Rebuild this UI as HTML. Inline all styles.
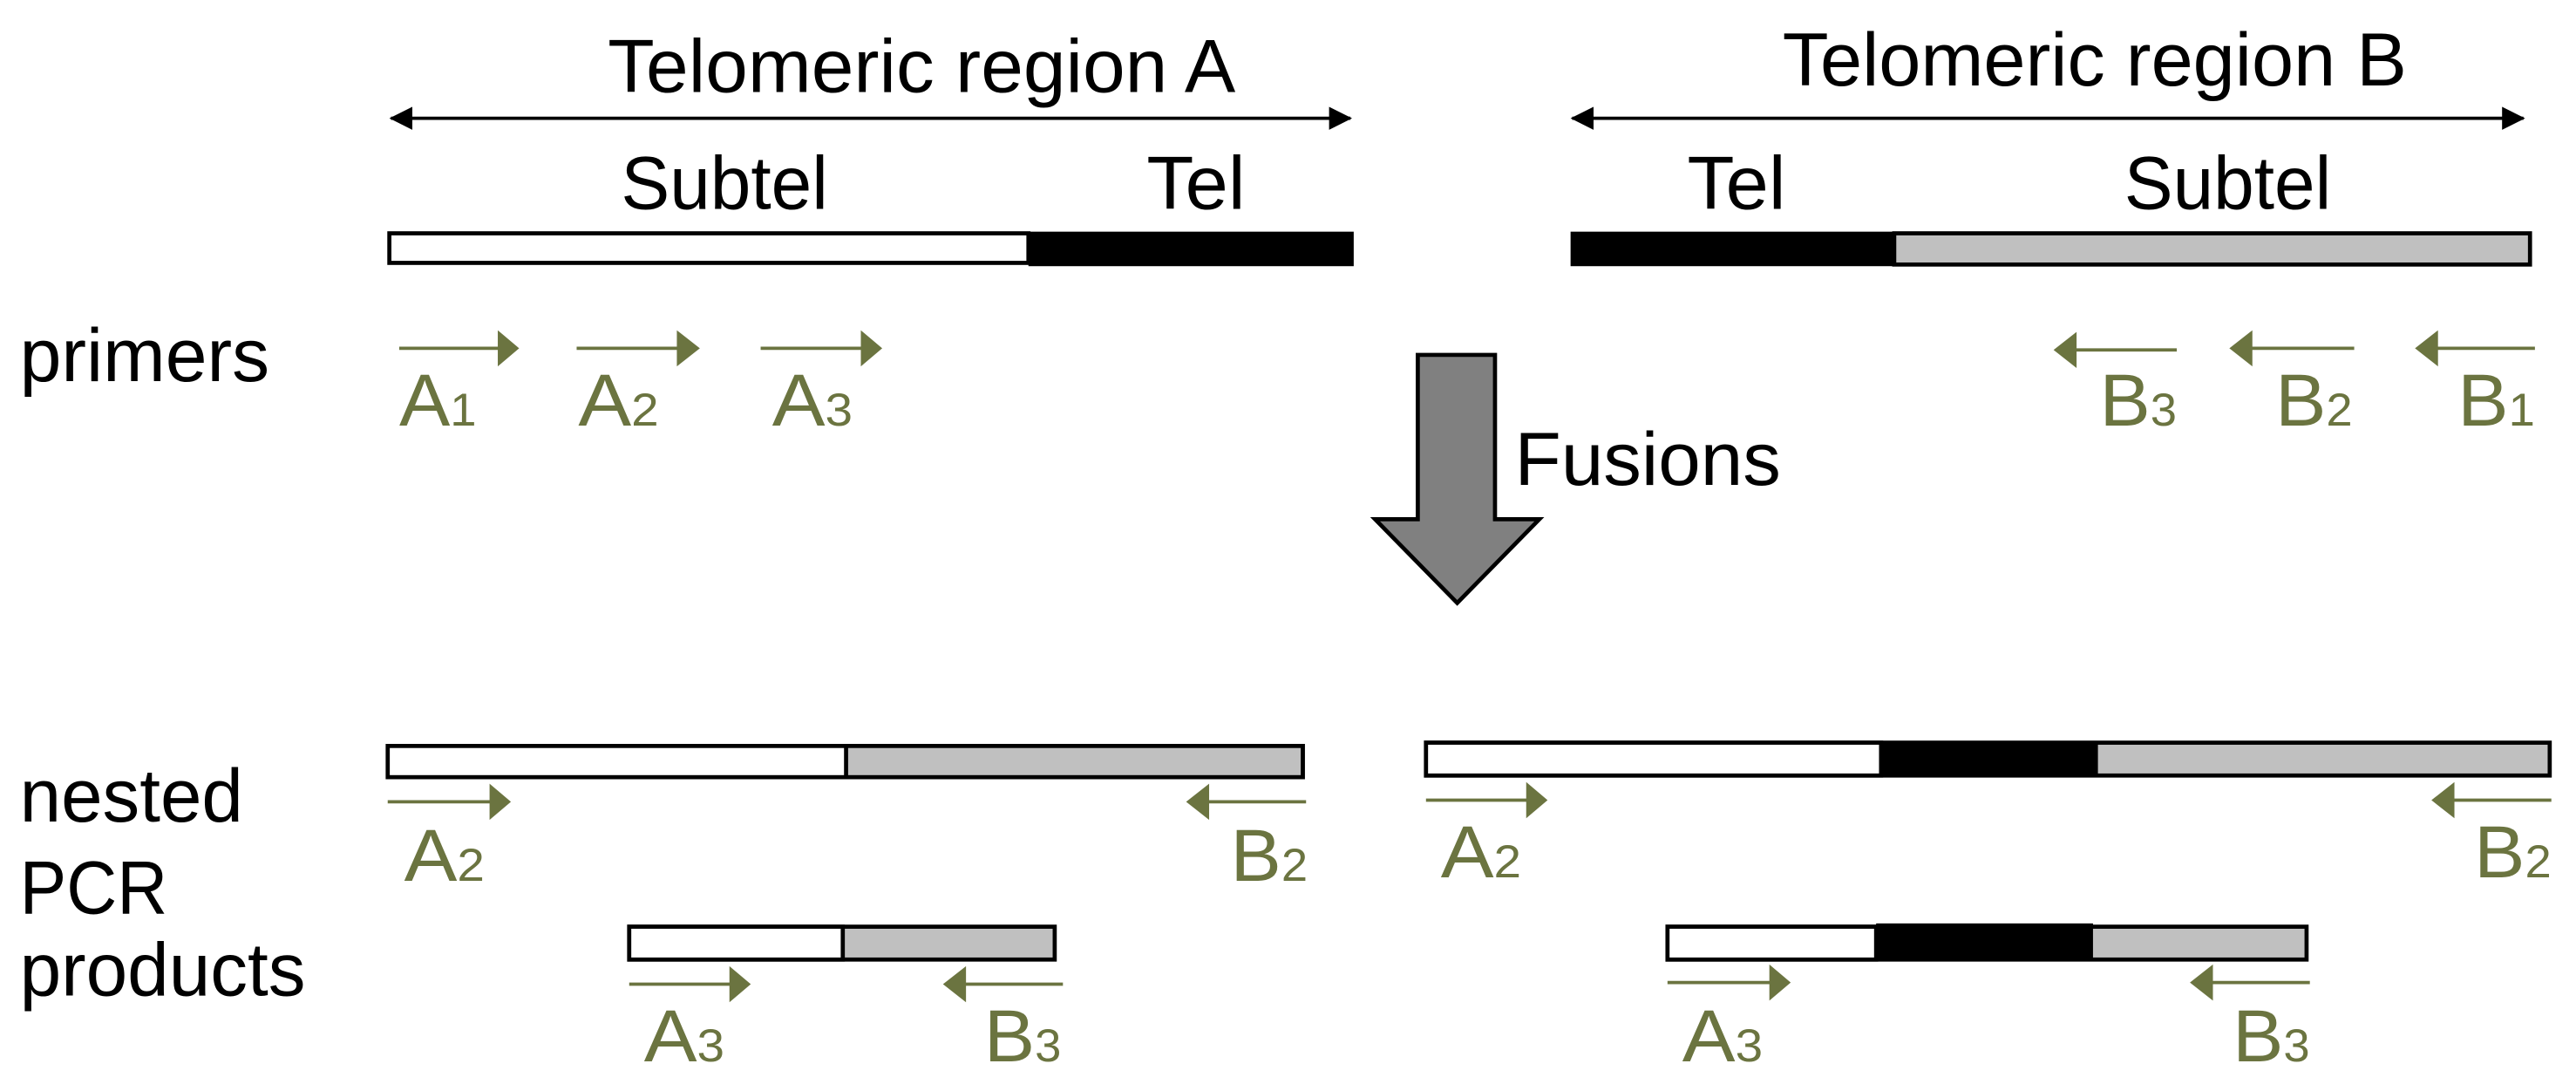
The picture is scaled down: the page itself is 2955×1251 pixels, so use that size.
<!DOCTYPE html>
<html><head><meta charset="utf-8"><style>
html,body{margin:0;padding:0;background:#fff;}
svg{display:block;}
text{font-family:"Liberation Sans",Arial,sans-serif;}
</style></head><body>
<svg width="2955" height="1251" viewBox="0 0 1568 664" preserveAspectRatio="none" xmlns="http://www.w3.org/2000/svg">
<defs>
<marker id="bk" markerWidth="14" markerHeight="14" refX="13" refY="7" orient="auto-start-reverse" markerUnits="userSpaceOnUse" viewBox="0 0 14 14"><path d="M0,0 L14,7 L0,14 Z" fill="#000"/></marker>
</defs>
<g fill="#000" font-size="46">
<text x="370" y="56" textLength="382" lengthAdjust="spacingAndGlyphs">Telomeric region A</text>
<text x="1085" y="52" textLength="380" lengthAdjust="spacingAndGlyphs">Telomeric region B</text>
<text x="378" y="127" textLength="126" lengthAdjust="spacingAndGlyphs">Subtel</text>
<text x="698" y="127" textLength="60" lengthAdjust="spacingAndGlyphs">Tel</text>
<text x="1027" y="127" textLength="60" lengthAdjust="spacingAndGlyphs">Tel</text>
<text x="1293" y="127" textLength="126" lengthAdjust="spacingAndGlyphs">Subtel</text>
<text x="12" y="232" textLength="152" lengthAdjust="spacingAndGlyphs">primers</text>
<text x="922" y="295" textLength="162" lengthAdjust="spacingAndGlyphs">Fusions</text>
<text x="12" y="500" textLength="136" lengthAdjust="spacingAndGlyphs">nested</text>
<text x="12" y="556" textLength="90" lengthAdjust="spacingAndGlyphs">PCR</text>
<text x="12" y="606" textLength="174" lengthAdjust="spacingAndGlyphs">products</text>
</g>
<line x1="238" y1="72" x2="822" y2="72" stroke="#000" stroke-width="2" marker-start="url(#bk)" marker-end="url(#bk)"/>
<line x1="957" y1="72" x2="1536" y2="72" stroke="#000" stroke-width="2" marker-start="url(#bk)" marker-end="url(#bk)"/>
<rect x="237" y="142" width="389" height="18" fill="#fff" stroke="#000" stroke-width="2.5"/>
<rect x="626" y="141" width="198" height="21" fill="#000"/>
<rect x="956" y="141" width="197" height="21" fill="#000"/>
<rect x="1153" y="142" width="387" height="19" fill="#c0c0c0" stroke="#000" stroke-width="2.5"/>
<path d="M863,216 L910,216 L910,316 L937,316 L887,367 L837,316 L863,316 Z" fill="#808080" stroke="#000" stroke-width="2.5"/>
<rect x="236" y="454" width="557" height="19" fill="#fff" stroke="#000" stroke-width="2.5"/>
<rect x="515" y="454" width="278" height="19" fill="#c0c0c0" stroke="#000" stroke-width="2.5"/>
<rect x="868" y="452" width="684" height="20" fill="#c0c0c0" stroke="#000" stroke-width="2.5"/>
<rect x="868" y="452" width="277" height="20" fill="#fff" stroke="#000" stroke-width="2.5"/>
<rect x="1145" y="451" width="132" height="22" fill="#000"/>
<rect x="383" y="564" width="259" height="20" fill="#c0c0c0" stroke="#000" stroke-width="2.5"/>
<rect x="383" y="564" width="130" height="20" fill="#fff" stroke="#000" stroke-width="2.5"/>
<rect x="1015" y="564" width="389" height="20" fill="#c0c0c0" stroke="#000" stroke-width="2.5"/>
<rect x="1015" y="564" width="127" height="20" fill="#fff" stroke="#000" stroke-width="2.5"/>
<rect x="1142" y="562" width="132" height="23" fill="#000"/>
<g fill="#6b7440" stroke="#6b7440">
<g stroke-width="2">
<line x1="243" y1="212" x2="305" y2="212"/><line x1="351" y1="212" x2="414" y2="212"/><line x1="463" y1="212" x2="526" y2="212"/>
<line x1="1262" y1="213" x2="1325" y2="213"/><line x1="1369" y1="212" x2="1433" y2="212"/><line x1="1482" y1="212" x2="1543" y2="212"/>
<line x1="236" y1="488" x2="300" y2="488"/><line x1="734" y1="488" x2="795" y2="488"/>
<line x1="868" y1="487" x2="931" y2="487"/><line x1="1492" y1="487" x2="1553" y2="487"/>
<line x1="383" y1="599" x2="446" y2="599"/><line x1="586" y1="599" x2="647" y2="599"/>
<line x1="1015" y1="598" x2="1079" y2="598"/><line x1="1345" y1="598" x2="1406" y2="598"/>
</g>
<g stroke="none">
<path d="M303,201 L316,212 L303,223Z"/><path d="M412,201 L426,212 L412,223Z"/><path d="M524,201 L537,212 L524,223Z"/>
<path d="M1264,202 L1250,213 L1264,224Z"/><path d="M1371,201 L1357,212 L1371,223Z"/><path d="M1484,201 L1470,212 L1484,223Z"/>
<path d="M298,477 L311,488 L298,499Z"/><path d="M736,477 L722,488 L736,499Z"/>
<path d="M929,476 L942,487 L929,498Z"/><path d="M1494,476 L1480,487 L1494,498Z"/>
<path d="M444,588 L457,599 L444,610Z"/><path d="M588,588 L574,599 L588,610Z"/>
<path d="M1077,587 L1090,598 L1077,609Z"/><path d="M1347,587 L1333,598 L1347,609Z"/>
</g>
<g stroke="none" font-size="45">
<text x="243" y="259" textLength="47" lengthAdjust="spacingAndGlyphs">A<tspan font-size="28">1</tspan></text>
<text x="352" y="259" textLength="49" lengthAdjust="spacingAndGlyphs">A<tspan font-size="28">2</tspan></text>
<text x="470" y="259" textLength="49" lengthAdjust="spacingAndGlyphs">A<tspan font-size="28">3</tspan></text>
<text x="1278" y="259" textLength="47" lengthAdjust="spacingAndGlyphs">B<tspan font-size="28">3</tspan></text>
<text x="1385" y="259" textLength="47" lengthAdjust="spacingAndGlyphs">B<tspan font-size="28">2</tspan></text>
<text x="1496" y="259" textLength="47" lengthAdjust="spacingAndGlyphs">B<tspan font-size="28">1</tspan></text>
<text x="246" y="536" textLength="49" lengthAdjust="spacingAndGlyphs">A<tspan font-size="28">2</tspan></text>
<text x="749" y="536" textLength="47" lengthAdjust="spacingAndGlyphs">B<tspan font-size="28">2</tspan></text>
<text x="877" y="534" textLength="49" lengthAdjust="spacingAndGlyphs">A<tspan font-size="28">2</tspan></text>
<text x="1506" y="534" textLength="47" lengthAdjust="spacingAndGlyphs">B<tspan font-size="28">2</tspan></text>
<text x="392" y="646" textLength="49" lengthAdjust="spacingAndGlyphs">A<tspan font-size="28">3</tspan></text>
<text x="599" y="646" textLength="47" lengthAdjust="spacingAndGlyphs">B<tspan font-size="28">3</tspan></text>
<text x="1024" y="646" textLength="49" lengthAdjust="spacingAndGlyphs">A<tspan font-size="28">3</tspan></text>
<text x="1359" y="646" textLength="47" lengthAdjust="spacingAndGlyphs">B<tspan font-size="28">3</tspan></text>
</g>
</g>
</svg>
</body></html>
